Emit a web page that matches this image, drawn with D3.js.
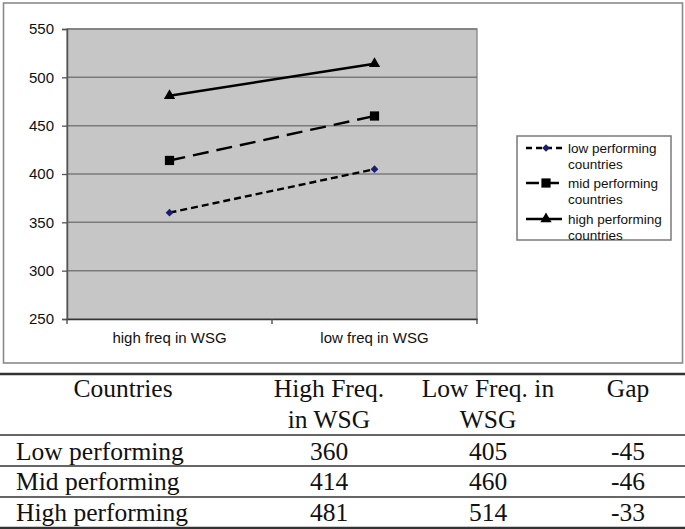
<!DOCTYPE html>
<html>
<head>
<meta charset="utf-8">
<script src="https://cdn.jsdelivr.net/npm/d3@7/dist/d3.min.js"></script>
<style>
  html, body { margin: 0; padding: 0; background: #fff; }
  svg { display: block; }
</style>
</head>
<body>
<svg id="chart" width="685" height="529"></svg>
<script>
// ---- data ----
const categories = ["high freq in WSG", "low freq in WSG"];
const seriesNames = ["low performing countries", "mid performing countries", "high performing countries"];
const lowPerforming = [360, 405];
const midPerforming = [414, 460];
const highPerforming = [481, 514];
const yTicks = [250, 300, 350, 400, 450, 500, 550];

const tableHeader = [["Countries"], ["High Freq.", "in WSG"], ["Low Freq. in", "WSG"], ["Gap"]];
const tableRows = ["Low performing", "Mid performing", "High performing"];
const tableHigh = [360, 414, 481];
const tableLow = [405, 460, 514];
const tableGap = [-45, -46, -33];

// ---- layout ----
const svg = d3.select("#chart");
const plot = { left: 67, right: 477, top: 29, bottom: 319 };

// chart frame
svg.append("rect").attr("x", 3.5).attr("y", 3).attr("width", 679).attr("height", 360)
  .attr("fill", "#fff").attr("stroke", "#8a8a8a").attr("stroke-width", 1.6);

const x = d3.scaleBand().domain(categories).range([plot.left, plot.right]).padding(0);
const y = d3.scaleLinear().domain([250, 550]).range([plot.bottom, plot.top]);

// plot background
svg.append("rect").attr("x", plot.left).attr("y", plot.top)
  .attr("width", plot.right - plot.left).attr("height", plot.bottom - plot.top)
  .attr("fill", "#c6c6c6").attr("stroke", "#8a8a8a").attr("stroke-width", 1.4);

// gridlines
svg.append("g").selectAll("line").data(yTicks.slice(1)).join("line")
  .attr("x1", plot.left).attr("x2", plot.right)
  .attr("y1", d => y(d)).attr("y2", d => y(d))
  .attr("stroke", "#7a7a7a").attr("stroke-width", 1.5);

// y axis
const yAxis = svg.append("g").attr("transform", `translate(${plot.left},0)`)
  .call(d3.axisLeft(y).tickValues(yTicks).tickSize(5).tickPadding(8).tickFormat(d3.format("d")));
yAxis.select(".domain").attr("stroke", "#555").attr("stroke-width", 1.5);
yAxis.selectAll(".tick line").attr("stroke", "#555").attr("stroke-width", 1.3);
yAxis.selectAll("text").attr("font-family", "Arial, 'Liberation Sans', sans-serif")
  .attr("font-size", 15).attr("fill", "#111");

// x axis
const xAxis = svg.append("g").attr("transform", `translate(0,${plot.bottom})`)
  .call(d3.axisBottom(x).tickSize(0).tickPadding(13));
xAxis.select(".domain").attr("stroke", "#333").attr("stroke-width", 1.5);
xAxis.selectAll("text").attr("font-family", "Arial, 'Liberation Sans', sans-serif")
  .attr("font-size", 15).attr("fill", "#111");
// tick marks between categories
const edges = categories.map(c => x(c)).concat([x.range()[1]]);
xAxis.append("g").selectAll("line").data(edges).join("line")
  .attr("x1", d => d).attr("x2", d => d).attr("y1", 0).attr("y2", 5)
  .attr("stroke", "#444").attr("stroke-width", 1.3);

// series
const series = [
  { name: seriesNames[0], values: lowPerforming, dash: "7,4", marker: "diamond", color: "#1c1c70" },
  { name: seriesNames[1], values: midPerforming, dash: "16,8", marker: "square", color: "#000" },
  { name: seriesNames[2], values: highPerforming, dash: null, marker: "triangle", color: "#000" }
];
const line = d3.line().x((d, i) => x(categories[i]) + x.bandwidth() / 2).y(d => y(d));
const symbolFor = { diamond: d3.symbolSquare, square: d3.symbolSquare, triangle: d3.symbolTriangle };
const sizeFor = { diamond: 30, square: 85, triangle: 55 };
const rotFor = { diamond: 45, square: 0, triangle: 0 };

series.forEach(s => {
  svg.append("path").datum(s.values).attr("d", line)
    .attr("fill", "none").attr("stroke", "#000").attr("stroke-width", 2.4)
    .attr("stroke-dasharray", s.dash);
  svg.append("g").selectAll("path").data(s.values).join("path")
    .attr("transform", (d, i) => `translate(${x(categories[i]) + x.bandwidth() / 2},${y(d)}) rotate(${rotFor[s.marker]})`)
    .attr("d", d3.symbol().type(symbolFor[s.marker]).size(sizeFor[s.marker]))
    .attr("fill", s.color);
});

// legend
const lg = svg.append("g");
lg.append("rect").attr("x", 517).attr("y", 136).attr("width", 154).attr("height", 104)
  .attr("fill", "#fff").attr("stroke", "#7a7a7a").attr("stroke-width", 1.5);
const legendY = [148, 183, 219];
const legendDash = ["6,4", "13,7", null];
series.forEach((s, i) => {
  const ly = legendY[i];
  lg.append("line").attr("x1", 526).attr("x2", 562).attr("y1", ly).attr("y2", ly)
    .attr("stroke", "#000").attr("stroke-width", 2.4).attr("stroke-dasharray", legendDash[i]);
  lg.append("path").attr("transform", `translate(546,${ly}) rotate(${rotFor[s.marker]})`)
    .attr("d", d3.symbol().type(symbolFor[s.marker]).size(sizeFor[s.marker]))
    .attr("fill", s.color);
  const words = s.name.split(" ");
  const t = lg.append("text").attr("font-family", "Arial, 'Liberation Sans', sans-serif")
    .attr("font-size", 13.5).attr("fill", "#111");
  t.append("tspan").attr("x", 568).attr("y", ly + 5).text(words.slice(0, 2).join(" "));
  t.append("tspan").attr("x", 568).attr("y", ly + 21).text(words.slice(2).join(" "));
});

// ---- table ----
const tbl = svg.append("g").attr("font-family", "'Liberation Serif', 'Times New Roman', serif")
  .attr("font-size", 25.5).attr("fill", "#111");
const colX = [123, 329, 488, 628];
const lines = [{ y: 374, w: 2.4 }, { y: 435, w: 1.6 }, { y: 466, w: 1.6 }, { y: 497, w: 1.6 }, { y: 528, w: 2.4 }];
tbl.selectAll("line").data(lines).join("line")
  .attr("x1", 0).attr("x2", 685).attr("y1", d => d.y).attr("y2", d => d.y)
  .attr("stroke", "#333").attr("stroke-width", d => d.w);
tableHeader.forEach((h, i) => {
  h.forEach((txt, j) => {
    tbl.append("text").attr("x", colX[i]).attr("y", 397 + j * 31)
      .attr("text-anchor", "middle").text(txt);
  });
});
const rowBase = [460, 490, 521];
tableRows.forEach((r, i) => {
  tbl.append("text").attr("x", 16).attr("y", rowBase[i]).text(r);
  tbl.append("text").attr("x", colX[1]).attr("y", rowBase[i]).attr("text-anchor", "middle").text(tableHigh[i]);
  tbl.append("text").attr("x", colX[2]).attr("y", rowBase[i]).attr("text-anchor", "middle").text(tableLow[i]);
  tbl.append("text").attr("x", colX[3]).attr("y", rowBase[i]).attr("text-anchor", "middle").text(tableGap[i]);
});
</script>
</body>
</html>
